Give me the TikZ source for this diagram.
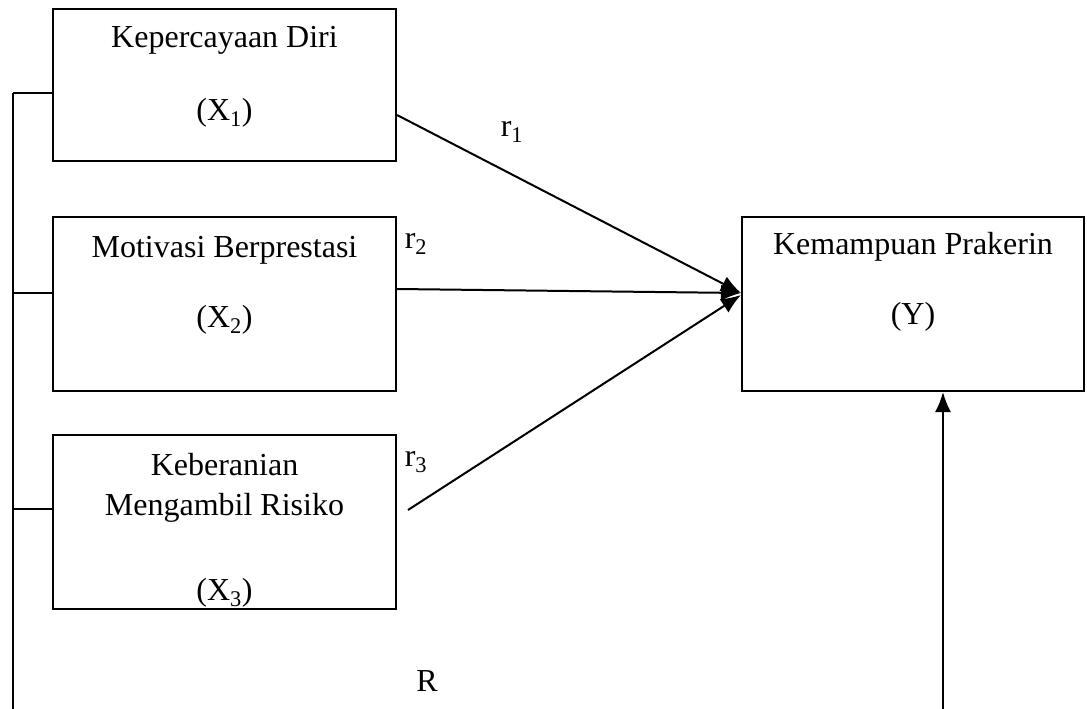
\documentclass[tikz,border=0pt]{standalone}
\usepackage{fontspec}
\setmainfont{Liberation Serif}
\usetikzlibrary{arrows.meta}
\begin{document}
\begin{tikzpicture}[x=1pt,y=-1pt,
  box/.style={draw,line width=2pt,minimum width=343pt,minimum height=152pt,inner sep=0pt},
  boxY/.style={draw,line width=2pt,minimum width=342pt,minimum height=174pt,inner sep=0pt},
  txt/.style={font=\fontsize{32}{38}\selectfont,inner sep=0pt,anchor=center},
  conn/.style={line width=2pt},
  arr/.style={line width=2pt,-{Latex[length=20pt,width=16pt]}}]
\useasboundingbox (0,0) rectangle (1087,709);
% boxes
\node[box] (x1) at (224.5,85) {};
\node[box,minimum height=174pt] (x2) at (224.5,304) {};
\node[box,minimum height=174pt] (x3) at (224.5,522) {};
\node[boxY] (y) at (913,304) {};
% texts
\node[txt] (t1a) at (224.5,40) {Kepercayaan Diri};
\node[txt] (t1b) at (224.5,113) {(X\textsubscript{1})};
\node[txt] (t2a) at (224.5,250) {Motivasi Berprestasi};
\node[txt] (t2b) at (224.5,320) {(X\textsubscript{2})};
\node[txt] (t3a) at (224.5,465) {Keberanian};
\node[txt] (t3b) at (224.5,508) {Mengambil Risiko};
\node[txt] (t3c) at (224.5,593) {(X\textsubscript{3})};
\node[txt] (tya) at (913,247) {Kemampuan Prakerin};
\node[txt] (tyb) at (913,317) {(Y)};
% labels
\node[txt] (r1) at (512,132) {r\textsubscript{1}};
\node[txt] (r2) at (416,244) {r\textsubscript{2}};
\node[txt] (r3) at (416,462) {r\textsubscript{3}};
\node[txt] (R) at (427,681) {R};
% bus on the left
\coordinate (btop) at (13,93);
\coordinate (bbot) at (13,709);
\coordinate (ybot) at (943,709);
\draw[conn] (btop) -- (bbot);
\draw[conn] (btop) -- ([yshift=-8pt]x1.west);
\draw[conn] (13,293) -- ([yshift=11pt]x2.west);
\draw[conn] (13,509) -- ([yshift=13pt]x3.west);
% arrows
\draw[arr] ([yshift=-30pt]x1.east) -- ([yshift=11pt]y.west);
\draw[arr] ([yshift=15pt]x2.east) -- ([yshift=11pt]y.west);
\draw[arr] ([shift={(11pt,12pt)}]x3.east) -- ([yshift=9pt]y.west);
\draw[arr] (ybot) -- ([xshift=30pt]y.south);
\end{tikzpicture}
\end{document}
